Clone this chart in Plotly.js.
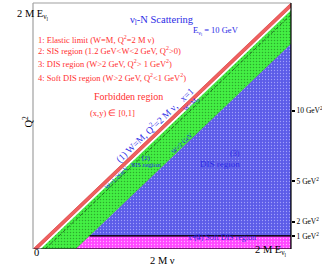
<!DOCTYPE html>
<html><head><meta charset="utf-8">
<script src="https://cdn.plot.ly/plotly-3.0.1.min.js"></script>
<style>html,body{margin:0;padding:0;background:#fff}#chart{width:322px;height:273px}</style>
</head><body><div id="chart"></div>
<script>
// ---- data ----
const nucleonMass = 0.938;          // M (GeV)
const neutrinoEnergy = 10;          // E_nu (GeV)
const elasticBandW = [0.938, 1.1];  // red band: W = M .. edge
const sisW = [1.2, 2.0];            // SIS region W limits (GeV)
const deltaLineW = 1.33;            // dashed W = M_Delta line (as drawn)
const q2Cut = 1;                    // DIS / soft DIS boundary (GeV^2)
const yTickPos = [0.99, 2.08, 5.15, 10.55];
const yTickText = ['1 GeV<sup>2</sup>', '2 GeV<sup>2</sup>', '5 GeV<sup>2</sup>', '10 GeV<sup>2</sup>'];
const legendLines = [
  '1: Elastic limit (W=M, Q<sup>2</sup>=2 M ν)',
  '2: SIS region (1.2 GeV&lt;W&lt;2 GeV, Q<sup>2</sup>&gt;0)',
  '3: DIS region (W&gt;2 GeV, Q<sup>2</sup>&gt; 1 GeV<sup>2</sup>)',
  '4: Soft DIS region (W&gt;2 GeV, Q<sup>2</sup>&lt;1 GeV<sup>2</sup>)'
];

const M2 = nucleonMass * nucleonMass;
const xMax = 2 * nucleonMass * neutrinoEnergy;   // 2 M E
const off = w => w * w - M2;                     // x-offset of a constant-W line: Q2 = x - off

const FONT = 'Liberation Serif';
const BLUE = '#2b2be6', RED = '#ff3030';

const traces = [];
// green SIS region
traces.push({x: [off(sisW[0]), off(sisW[1]), xMax, xMax], y: [0, 0, xMax - off(sisW[1]), xMax - off(sisW[0])],
  fill: 'toself', mode: 'lines', line: {color: 'rgba(20,90,20,0.7)', width: 0.6},
  fillcolor: '#44ee44', fillpattern: {shape: '.', bgcolor: '#44f044', fgcolor: '#2caa2c', size: 3, solidity: 0.2},
  hoverinfo: 'skip'});
// blue DIS region
traces.push({x: [q2Cut + off(sisW[1]), xMax, xMax], y: [q2Cut, q2Cut, xMax - off(sisW[1])],
  fill: 'toself', mode: 'lines', line: {color: 'rgba(20,20,80,0.8)', width: 0.6},
  fillcolor: '#6a6aee', fillpattern: {shape: '.', bgcolor: '#5c5ce8', fgcolor: '#a0a0fa', size: 3, solidity: 0.14},
  hoverinfo: 'skip'});
// magenta soft DIS region
traces.push({x: [off(sisW[1]), xMax, xMax, q2Cut + off(sisW[1])], y: [0, 0, q2Cut, q2Cut],
  fill: 'toself', mode: 'lines', line: {color: 'rgba(60,0,60,0.8)', width: 0.8},
  fillcolor: '#ff55ff', fillpattern: {shape: '.', bgcolor: '#ff48ff', fgcolor: '#ffb0ff', size: 3, solidity: 0.14},
  hoverinfo: 'skip'});
// red elastic band
traces.push({x: [off(elasticBandW[0]), xMax, xMax, off(elasticBandW[1])],
  y: [0, xMax - off(elasticBandW[0]), xMax - off(elasticBandW[1]), 0],
  fill: 'toself', mode: 'lines', line: {color: '#d02a2a', width: 0.6}, fillcolor: '#f06060', hoverinfo: 'skip'});
// dashed W = M_Delta
traces.push({x: [off(deltaLineW), xMax], y: [0, xMax - off(deltaLineW)], mode: 'lines',
  line: {color: '#1a401a', width: 0.7, dash: '4px,2px'}, hoverinfo: 'skip'});
// black Q2 = 1 line and x = 0 line
traces.push({x: [q2Cut + off(sisW[1]), xMax], y: [q2Cut, q2Cut], mode: 'lines', line: {color: '#000', width: 1.2}, hoverinfo: 'skip'});
traces.push({x: [0, xMax], y: [0, 0], mode: 'lines', line: {color: '#200020', width: 1.2}, hoverinfo: 'skip'});

const ang = -Math.atan(246 / 258) * 180 / Math.PI;

function ann(text, x, y, size, color, extra) {
  return Object.assign({text: text, xref: 'paper', yref: 'paper', x: x, y: y, showarrow: false, borderpad: 0,
    font: {family: FONT, size: size, color: color}}, extra || {});
}
// paper helpers from pixel positions (plot area 33..291 x 3..249)
const px = v => (v - 33) / 258, py = v => (249 - v) / 246;

const annotations = [
  ann('2 M E<sub>ν<sub>l</sub></sub>', px(16), py(7), 10.5, '#000'),
  ann('ν<sub>l</sub>-N Scattering', px(162), py(13), 10.5, BLUE),
  ann('E<sub>ν<sub>l</sub></sub> = 10 GeV', px(240), py(24), 8.5, BLUE),
  ann('Forbidden region', px(93), py(97), 10, RED),
  ann('(x,y) ∈ [0,1]', px(89), py(113), 8.5, RED),
  ann('(1) W=M, Q<sup>2</sup>=2 M ν,   x=1', px(154), py(125), 9.5, BLUE, {textangle: ang}),
  ann('W=M<sub>Δ</sub>', px(191), py(104), 6.5, BLUE, {textangle: ang}),
  ann('W=2 GeV', px(181), py(143), 6.5, BLUE, {textangle: ang}),
  ann('W=1.2GeV', px(101), py(192), 6.5, BLUE, {textangle: ang}),
  ann('(2)', px(146), py(158), 7, BLUE),
  ann('SIS region', px(146), py(170), 7, BLUE),
  ann('(3)', px(241), py(153), 8, BLUE),
  ann('DIS region', px(241), py(170), 9, BLUE),
  ann('x=0', px(194), py(243), 7.5, BLUE),
  ann('(4) Soft DIS region', px(257), py(243), 8, BLUE),
  ann('Q<sup>2</sup>', px(19), py(122), 10.5, '#000', {textangle: -90}),
  ann('0', px(33), py(259), 10.5, '#000'),
  ann('2 M ν', px(162), py(267), 10.5, '#000'),
  ann('2 M E<sub>ν<sub>l</sub></sub>', px(288), py(259), 10.5, '#000')
];
legendLines.forEach((t, i) => annotations.push(ann(t, px(37), py([33, 44, 57, 71][i]), 8.5, RED, {xanchor: 'left'})));

const layout = {
  width: 322, height: 273, margin: {l: 33, r: 31, t: 3, b: 24},
  paper_bgcolor: '#fff', plot_bgcolor: '#fff', showlegend: false,
  font: {family: FONT, size: 10, color: '#000'},
  xaxis: {range: [0, xMax], showgrid: false, zeroline: false, showticklabels: false, ticks: '', showline: false, fixedrange: true},
  yaxis: {range: [0, xMax], side: 'right', showgrid: false, zeroline: false, showline: false,
    tickvals: yTickPos, ticktext: yTickText, ticks: 'outside', ticklen: 3, tickwidth: 2, tickcolor: '#000',
    tickfont: {family: FONT, size: 7.5, color: '#000'}, fixedrange: true},
  shapes: [
    {type: 'line', xref: 'paper', yref: 'paper', x0: 0, x1: 0, y0: 0, y1: 1, line: {color: '#a0a0a0', width: 1.2}},
    {type: 'line', xref: 'paper', yref: 'paper', x0: 0, x1: 1, y0: 1, y1: 1, line: {color: '#a0a0a0', width: 1.2}},
    {type: 'line', xref: 'paper', yref: 'paper', x0: 1, x1: 1, y0: 0, y1: 1, line: {color: '#000', width: 1.2}}
  ],
  annotations: annotations
};
Plotly.newPlot('chart', traces, layout, {staticPlot: true, displayModeBar: false});
</script></body></html>
